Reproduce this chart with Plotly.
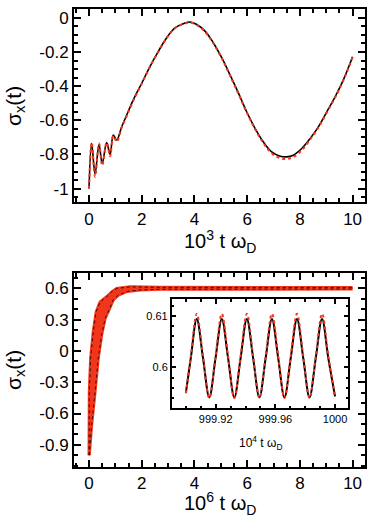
import plotly.graph_objects as go

# top panel: sigma_x(t) vs 10^3 t w_D
t_top = [0.0, 0.1, 0.23, 0.38, 0.5, 0.67, 0.8, 0.92, 1.05, 1.24, 1.43, 1.68, 2.0, 2.31,
         2.63, 2.94, 3.26, 3.58, 3.83, 4.09, 4.41, 4.72, 5.04, 5.35, 5.67, 5.98, 6.3,
         6.61, 6.93, 7.25, 7.5, 7.75, 8.07, 8.39, 8.7, 9.02, 9.34, 9.65, 10.0]
sx_black = [-1.0, -0.735, -0.914, -0.74, -0.853, -0.73, -0.8, -0.686, -0.716, -0.638,
            -0.569, -0.48, -0.383, -0.285, -0.196, -0.118, -0.059, -0.034, -0.024,
            -0.039, -0.079, -0.147, -0.235, -0.334, -0.441, -0.55, -0.647, -0.726,
            -0.785, -0.81, -0.814, -0.804, -0.765, -0.706, -0.638, -0.55, -0.461,
            -0.363, -0.228]
sx_red = [-1.0, -0.73, -0.93, -0.735, -0.865, -0.73, -0.81, -0.69, -0.725, -0.642,
          -0.575, -0.485, -0.386, -0.288, -0.198, -0.12, -0.06, -0.036, -0.028,
          -0.042, -0.083, -0.15, -0.238, -0.338, -0.445, -0.553, -0.652, -0.732,
          -0.793, -0.822, -0.826, -0.815, -0.775, -0.712, -0.643, -0.555, -0.465,
          -0.366, -0.23]

# bottom panel: band of fast oscillations, 10^6 t w_D
t_band_up = [0.0, 0.0, 0.01, 0.06, 0.16, 0.27, 0.42, 0.67, 0.86, 1.05, 1.56, 2.7, 10.0]
sx_band_up = [-1.0, -0.71, -0.39, -0.07, 0.184, 0.376, 0.47, 0.52, 0.567, 0.6, 0.615,
              0.61, 0.608]
t_band_lo = [0.01, 0.1, 0.23, 0.35, 0.48, 0.61, 0.77, 0.92, 1.11, 1.43, 1.94, 2.7, 10.0]
sx_band_lo = [-1.0, -0.71, -0.39, -0.07, 0.155, 0.31, 0.4, 0.49, 0.535, 0.57, 0.585,
              0.592, 0.594]

# inset: 10^4 t w_D near the end
t_ins = [999.900, 999.9033, 999.9073, 999.9115, 999.9157, 999.9199, 999.9241, 999.9283,
         999.9325, 999.9367, 999.9409, 999.9451, 999.9493, 999.9535, 999.9577, 999.9619,
         999.9661, 999.9703, 999.9745, 999.9787, 999.9829, 999.9871, 999.9913, 999.9955,
         1000.0]
sx_ins_black = [0.5951, 0.6018, 0.6094, 0.6018, 0.5942, 0.6018, 0.6094, 0.6018, 0.5942,
                0.6018, 0.6094, 0.6018, 0.5942, 0.6018, 0.6094, 0.6018, 0.5942, 0.6018,
                0.6094, 0.6018, 0.5942, 0.6018, 0.6094, 0.6018, 0.5944]
sx_ins_red = [0.5950, 0.6022, 0.6104, 0.6022, 0.5941, 0.6022, 0.6104, 0.6022, 0.5941,
              0.6022, 0.6104, 0.6022, 0.5941, 0.6022, 0.6104, 0.6022, 0.5941, 0.6022,
              0.6104, 0.6022, 0.5941, 0.6022, 0.6104, 0.6022, 0.5943]

RED = '#f2361b'
FONT = 'Liberation Sans'
W, H = 374, 530

fig = go.Figure()

fig.add_trace(go.Scatter(x=t_top, y=sx_black, mode='lines', line=dict(color='black', width=1.6, shape='spline'),
                         xaxis='x', yaxis='y'))
fig.add_trace(go.Scatter(x=t_top, y=sx_red, mode='lines', line=dict(color=RED, width=2, dash='dot', shape='spline'),
                         xaxis='x', yaxis='y'))

# red band, then sparse black dots along its edges
fig.add_trace(go.Scatter(x=t_band_lo, y=sx_band_lo, mode='lines', line=dict(color=RED, width=3),
                         xaxis='x2', yaxis='y2'))
fig.add_trace(go.Scatter(x=t_band_up, y=sx_band_up, mode='lines', line=dict(color=RED, width=3),
                         fill='tonexty', fillcolor=RED, xaxis='x2', yaxis='y2'))
fig.add_trace(go.Scatter(x=t_band_lo, y=sx_band_lo, mode='lines', line=dict(color='black', width=1, dash='dot'),
                         opacity=0.8, xaxis='x2', yaxis='y2'))
fig.add_trace(go.Scatter(x=t_band_up, y=sx_band_up, mode='lines', line=dict(color='black', width=1, dash='dot'),
                         opacity=0.8, xaxis='x2', yaxis='y2'))

fig.add_trace(go.Scatter(x=t_ins, y=sx_ins_black, mode='lines', line=dict(color='black', width=2, shape='spline'),
                         xaxis='x3', yaxis='y3'))
fig.add_trace(go.Scatter(x=t_ins, y=sx_ins_red, mode='lines', line=dict(color=RED, width=2, dash='dot', shape='spline'),
                         xaxis='x3', yaxis='y3'))

ax = dict(showline=True, linecolor='black', linewidth=2, mirror='allticks', ticks='inside',
          ticklen=7, tickwidth=1.5, tickcolor='black', showgrid=False, zeroline=False,
          tickfont=dict(family=FONT, size=17, color='black'))

fig.update_layout(
    width=W, height=H, margin=dict(l=0, r=0, t=0, b=0),
    paper_bgcolor='white', plot_bgcolor='white', showlegend=False,
    font=dict(family=FONT, color='black'),
    xaxis=dict(ax, domain=[74 / W, 365 / W], anchor='y', range=[-0.57, 10.47],
               tickvals=[0, 2, 4, 6, 8, 10],
               minor=dict(dtick=0.5, tick0=0, ticks='inside', ticklen=4, tickcolor='black')),
    yaxis=dict(ax, domain=[1 - 202.3 / H, 1 - 9.3 / H], anchor='x', range=[-1.08, 0.05],
               tickvals=[-1, -0.8, -0.6, -0.4, -0.2, 0],
               ticktext=['-1', '-0.8', '-0.6', '-0.4', '-0.2', '0'],
               minor=dict(dtick=0.05, tick0=0, ticks='inside', ticklen=4, tickcolor='black')),
    xaxis2=dict(ax, domain=[74 / W, 365 / W], anchor='y2', range=[-0.57, 10.47],
                tickvals=[0, 2, 4, 6, 8, 10],
                minor=dict(dtick=0.5, tick0=0, ticks='inside', ticklen=4, tickcolor='black')),
    yaxis2=dict(ax, domain=[1 - 466.7 / H, 1 - 273.3 / H], anchor='x2', range=[-1.11, 0.745],
                tickvals=[-0.9, -0.6, -0.3, 0, 0.3, 0.6],
                ticktext=['-0.9', '-0.6', '-0.3', '0', '0.3', '0.6'],
                minor=dict(dtick=0.1, tick0=0, ticks='inside', ticklen=4, tickcolor='black')),
    xaxis3=dict(ax, domain=[171.7 / W, 348.3 / W], anchor='y3', range=[999.8905, 1000.0089],
                ticklen=5, linewidth=1.5, tickfont=dict(family=FONT, size=11, color='black'),
                tickvals=[999.92, 999.96, 1000.0], ticktext=['999.92', '999.96', '1000'],
                minor=dict(dtick=0.01, tick0=999.92, ticks='inside', ticklen=3, tickcolor='black')),
    yaxis3=dict(ax, domain=[1 - 408.3 / H, 1 - 299.3 / H], anchor='x3', range=[0.5921, 0.6132],
                ticklen=5, linewidth=1.5, tickfont=dict(family=FONT, size=11, color='black'),
                tickvals=[0.6, 0.61], ticktext=['0.6', '0.61'],
                minor=dict(dtick=0.002, tick0=0.6, ticks='inside', ticklen=3, tickcolor='black')),
)

titles = [
    ('10<sup>3</sup> t ω<sub>D</sub>', 219.5, 241, 0, 20),
    ('σ<sub>x</sub>(t)', 15, 106, -90, 21),
    ('10<sup>6</sup> t ω<sub>D</sub>', 219.5, 503, 0, 20),
    ('σ<sub>x</sub>(t)', 15, 370, -90, 21),
    ('10<sup>4</sup> t ω<sub>D</sub>', 260, 443, 0, 12),
]
for text, px, py, ang, size in titles:
    fig.add_annotation(text=text, xref='paper', yref='paper', x=px / W, y=1 - py / H,
                       xanchor='center', yanchor='middle', showarrow=False, textangle=ang,
                       font=dict(family=FONT, size=size, color='black'))

# page body has a default 8px margin; drop it so the figure fills the window
fig.write_html("out.html", config={'displayModeBar': False},
               post_script="document.body.style.margin='0px';")
